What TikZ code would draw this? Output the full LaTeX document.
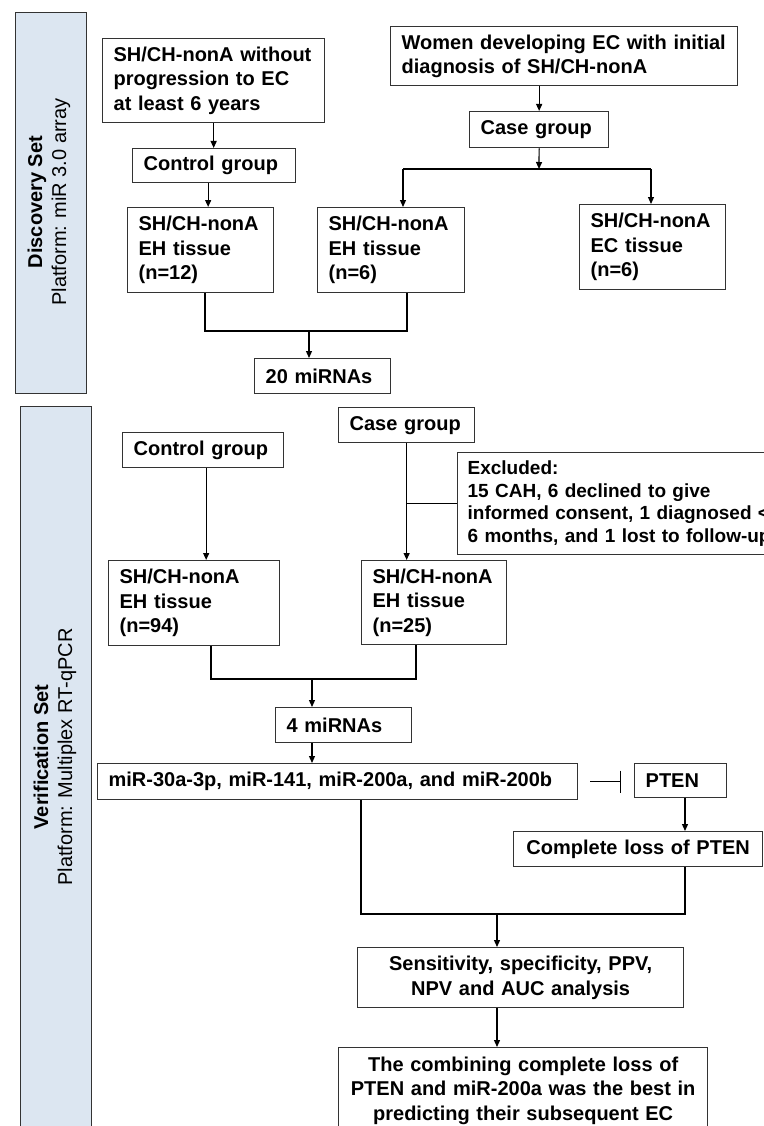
\documentclass[tikz,border=0pt]{standalone}
\usepackage{fontspec}
\setmainfont{Liberation Sans}
\usetikzlibrary{arrows.meta,calc}
\definecolor{panel}{HTML}{DCE6F1}
\definecolor{edge}{HTML}{333333}
\begin{document}
\begin{tikzpicture}[x=1pt,y=-1pt,
  bx/.style={draw=edge,line width=1.3pt,inner ysep=0pt,inner xsep=11pt,
    font=\bfseries\fontsize{20}{24.5}\selectfont,align=left,anchor=north west},
  cbx/.style={bx,align=center},
  arr/.style={line width=1.2pt,-{Triangle[length=7pt,width=6pt]}},
  ln/.style={line width=1.2pt},
  panelbox/.style={draw=edge,fill=panel,line width=1.3pt,anchor=north west,inner sep=0pt},
  ptext/.style={rotate=90,align=center,font=\fontsize{20}{24}\selectfont}]
\useasboundingbox (0,0) rectangle (763,1126);

% panels
\node[panelbox,minimum width=71pt,minimum height=381pt] (P1) at (15,12) {};
\node[panelbox,minimum width=71pt,minimum height=740pt] (P2) at (20,406) {};
\node[ptext] (P1t) at (49,202) {{\bfseries Discovery Set}\\Platform: miR 3.0 array};
\node[ptext] (P2t) at (55,757) {{\bfseries Verification Set}\\Platform: Multiplex RT-qPCR};

% discovery boxes
\node[bx,text width=200pt,minimum height=84pt] (A) at (102,38) {SH/CH-nonA without\\progression to EC\\at least 6 years};
\node[bx,text width=325pt,minimum height=59pt] (W) at (390,26) {Women developing EC with initial\\diagnosis of SH/CH-nonA};
\node[bx,text width=141pt,minimum height=34pt] (C1) at (132,148) {Control group};
\node[bx,text width=117pt,minimum height=36pt] (K1) at (469,111) {Case group};
\node[bx,text width=124pt,minimum height=85pt] (T12) at (127,207) {SH/CH-nonA\\EH tissue\\(n=12)};
\node[bx,text width=125pt,minimum height=85pt] (T6) at (317,207) {SH/CH-nonA\\EH tissue\\(n=6)};
\node[bx,text width=124pt,minimum height=85pt] (EC) at (579,204) {SH/CH-nonA\\EC tissue\\(n=6)};
\node[bx,text width=114pt,minimum height=35pt] (M20) at (254,358) {20 miRNAs};

% verification boxes
\node[bx,text width=139pt,minimum height=35pt] (C2) at (122,432) {Control group};
\node[bx,text width=114pt,minimum height=35pt] (K2) at (338,407) {Case group};
\node[bx,text width=321pt,minimum height=102pt,inner xsep=10pt,font=\bfseries\fontsize{19}{22.7}\selectfont] (Ex) at (457,452) {Excluded:\\15 CAH, 6 declined to give\\informed consent, 1 diagnosed <\\6 months, and 1 lost to follow-up};
\node[bx,text width=149pt,minimum height=85pt] (T94) at (108,560) {SH/CH-nonA\\EH tissue\\(n=94)};
\node[bx,text width=123pt,minimum height=84pt] (T25) at (361,560) {SH/CH-nonA\\EH tissue\\(n=25)};
\node[bx,text width=114pt,minimum height=35pt] (M4) at (275,707) {4 miRNAs};
\node[bx,text width=458pt,minimum height=36pt] (MIR) at (97,763) {miR-30a-3p, miR-141, miR-200a, and miR-200b};
\node[bx,text width=70pt,minimum height=34pt] (PT) at (634,763) {PTEN};
\node[cbx,text width=229pt,minimum height=35pt,inner xsep=10pt] (LS) at (513,831) {Complete loss of PTEN};
\node[cbx,text width=304pt,minimum height=60pt] (SE) at (357,947) {Sensitivity, specificity, PPV,\\NPV and AUC analysis};
\node[cbx,text width=347pt,inner ysep=9pt] (FI) at (338,1047) {The combining complete loss of\\PTEN and miR-200a was the best in\\predicting their subsequent EC\\\strut};

% discovery connectors
\draw[arr] (A.south) -- (A.south |- C1.north);
\draw[arr] ([xshift=-6pt]C1.south) -- ([xshift=-6pt]C1.south |- T12.north);
\draw[arr] (K1.north |- W.south) -- (K1.north);
\coordinate (jL) at (403,169);
\coordinate (jM) at (539,169);
\coordinate (jR) at (651,169);
\draw[arr] (K1.south) -- (jM);
\draw[ln] (jL) -- (jR);
\draw[arr] (jL) -- (jL |- T6.north);
\draw[arr] (jR) -- (jR |- EC.north);
\coordinate (b1) at (205,331);
\coordinate (b2) at (407,331);
\coordinate (b3) at (309,331);
\draw[ln] (b1 |- T12.south) -- (b1) -- (b2) -- (b2 |- T6.south);
\draw[arr] (b3) -- (b3 |- M20.north);

% verification connectors
\draw[arr] ([xshift=3pt]C2.south) -- ([xshift=3pt]C2.south |- T94.north);
\draw[arr] (K2.south) -- (K2.south |- T25.north);
\draw[ln] (Ex.west) -- (Ex.west -| K2.south);
\coordinate (c1) at (211,679);
\coordinate (c2) at (416,679);
\coordinate (c3) at (312,679);
\draw[ln] (c1 |- T94.south) -- (c1) -- (c2) -- (c2 |- T25.south);
\draw[arr] (c3) -- (c3 |- M4.north);
\draw[arr] (M4.south -| c3) -- (c3 |- MIR.north);
\draw[ln,-{Bar[width=22pt,line width=1.3pt]}] ([xshift=12pt]MIR.east) -- ([xshift=-13pt]MIR.east -| PT.west);
\coordinate (d1) at (361,914);
\coordinate (d2) at (685,914);
\coordinate (d3) at (497,914);
\draw[arr] (PT.south -| d2) -- (d2 |- LS.north);
\draw[ln] (d1 |- MIR.south) -- (d1) -- (d2) -- (d2 |- LS.south);
\draw[arr] (d3) -- (d3 |- SE.north);
\draw[arr] (SE.south -| d3) -- (d3 |- FI.north);
\end{tikzpicture}
\end{document}
